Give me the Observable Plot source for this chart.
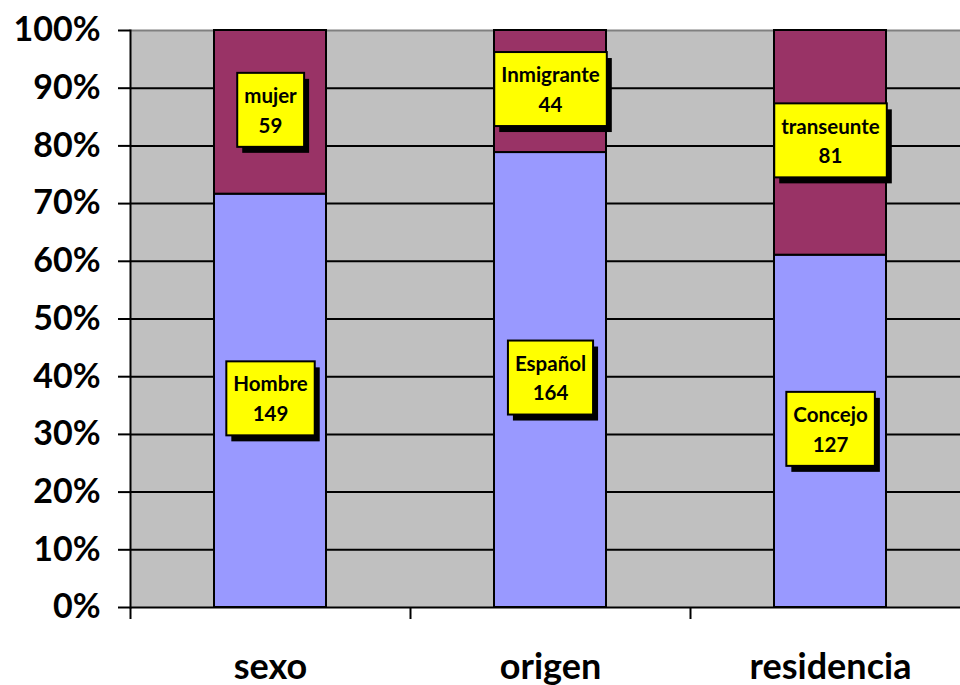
<!DOCTYPE html>
<html><head><meta charset="utf-8">
<script src="https://cdn.jsdelivr.net/npm/d3@7"></script>
<script src="https://cdn.jsdelivr.net/npm/@observablehq/plot@0.6"></script>
<style>body{margin:0;background:#fff;} #chart svg{font-family:Lato, sans-serif;}</style>
</head><body><div id="chart"></div>
<script>
const categories = ["sexo", "origen", "residencia"];
const bottomLabels = ["Hombre", "Español", "Concejo"];
const bottomValues = [149, 164, 127];
const topLabels = ["mujer", "Inmigrante", "transeunte"];
const topValues = [59, 44, 81];
const yTicks = [0, 0.1, 0.2, 0.3, 0.4, 0.5, 0.6, 0.7, 0.8, 0.9, 1];

const rows = [];
categories.forEach((c, i) => {
  rows.push({cat: c, series: "bottom", label: bottomLabels[i], value: bottomValues[i]});
  rows.push({cat: c, series: "top", label: topLabels[i], value: topValues[i]});
});

const chart = Plot.plot({
  width: 960, height: 685,
  marginLeft: 130, marginRight: 0, marginTop: 30, marginBottom: 78,
  style: {fontFamily: "Lato, sans-serif", background: "#fff", color: "#000"},
  x: {domain: categories, range: [130, 970], paddingInner: 0.6, paddingOuter: 0.3, label: null},
  y: {domain: [0, 1], label: null},
  color: {domain: ["bottom", "top"], range: ["#9999FF", "#993366"]},
  marks: [
    Plot.frame({fill: "#C0C0C0", stroke: null}),
    Plot.ruleY(yTicks.filter(t => t > 0 && t < 1), {stroke: "#000", strokeWidth: 2}),
    Plot.ruleY([1], {stroke: "#808080", strokeWidth: 2}),
    Plot.barY(rows, Plot.stackY({x: "cat", y: "value", z: "series", fill: "series", offset: "normalize", stroke: "#000", strokeWidth: 2})),
    Plot.frame({anchor: "left", stroke: "#000", strokeWidth: 2}),
    Plot.ruleY([0], {stroke: "#000", strokeWidth: 2}),
    Plot.axisY({ticks: yTicks, tickFormat: d3.format(".0%"), tickSize: 12, tickPadding: 18, fontSize: 34, fontWeight: "bold", strokeWidth: 2, label: null}),
    Plot.axisX({tickFormat: () => "", tickSize: 12, dx: -140, strokeWidth: 2, label: null}),
    Plot.axisX({tickSize: 0, tickPadding: 46, fontSize: 36, fontWeight: "bold", label: null}),
    Plot.text(rows, Plot.stackY({x: "cat", y: "value", z: "series", offset: "normalize",
      text: d => `${d.label}\n${d.value}`, fontSize: 20.5, fontWeight: "bold", lineHeight: 1.45,
      fill: "#000", dy: -4, className: "seglabel"}))
  ]
});
document.getElementById("chart").append(chart);

d3.select(chart).selectAll(".seglabel text").each(function () {
  const bb = this.getBBox();
  const cx = bb.x + bb.width / 2, cy = bb.y + bb.height / 2;
  const w = bb.width + 14, h = 74;
  const tr = this.getAttribute("transform");
  const parent = this.parentNode;
  const shadow = document.createElementNS("http://www.w3.org/2000/svg", "rect");
  const box = document.createElementNS("http://www.w3.org/2000/svg", "rect");
  [[shadow, 5, 6, "#000", "none"], [box, 0, 0, "#FFFF00", "#000"]].forEach(([r, ox, oy, f, s]) => {
    r.setAttribute("x", cx - w / 2 + ox);
    r.setAttribute("y", cy - h / 2 + oy);
    r.setAttribute("width", w);
    r.setAttribute("height", h);
    r.setAttribute("fill", f);
    r.setAttribute("stroke", s);
    r.setAttribute("stroke-width", 2);
    if (tr) r.setAttribute("transform", tr);
    parent.insertBefore(r, this);
  });
});
</script>
</body></html>
